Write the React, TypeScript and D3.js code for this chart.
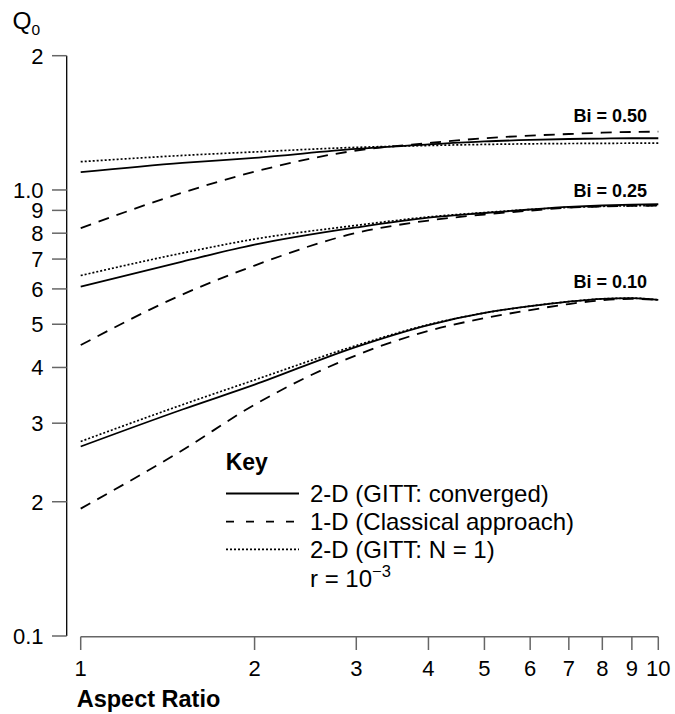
import React from "react";
import * as d3 from "d3";

const aspectRatio = [1, 1.5, 2, 3, 4, 5, 6, 7, 8, 9, 10];

const bi050Converged = [1.096, 1.15, 1.18, 1.236, 1.265, 1.285, 1.295, 1.301, 1.304, 1.306, 1.306];
const bi050Classical = [0.821, 0.986, 1.099, 1.226, 1.274, 1.306, 1.324, 1.335, 1.344, 1.349, 1.351];
const bi050N1 = [1.157, 1.195, 1.217, 1.246, 1.258, 1.265, 1.269, 1.271, 1.272, 1.273, 1.273];

const bi025Converged = [0.607, 0.691, 0.754, 0.824, 0.867, 0.888, 0.904, 0.916, 0.923, 0.927, 0.929];
const bi025Classical = [0.449, 0.583, 0.677, 0.801, 0.854, 0.881, 0.899, 0.913, 0.918, 0.921, 0.922];
const bi025N1 = [0.643, 0.722, 0.776, 0.833, 0.87, 0.89, 0.904, 0.914, 0.919, 0.922, 0.923];

const bi010Converged = [0.266, 0.322, 0.366, 0.445, 0.498, 0.53, 0.549, 0.562, 0.57, 0.572, 0.567];
const bi010Classical = [0.193, 0.261, 0.33, 0.426, 0.483, 0.516, 0.538, 0.555, 0.566, 0.57, 0.567];
const bi010N1 = [0.273, 0.33, 0.375, 0.448, 0.499, 0.53, 0.549, 0.562, 0.57, 0.572, 0.567];

const xTicks = [1, 2, 3, 4, 5, 6, 7, 8, 9, 10];
const yTicks = [0.1, 0.2, 0.3, 0.4, 0.5, 0.6, 0.7, 0.8, 0.9, 1.0, 2];
const yTickLabels = ["0.1", "2", "3", "4", "5", "6", "7", "8", "9", "1.0", "2"];

const biLabels = ["Bi = 0.50", "Bi = 0.25", "Bi = 0.10"];
const biLabelValues = [1.42, 0.965, 0.602];

const legendLabels = ["2-D (GITT: converged)", "1-D (Classical approach)", "2-D (GITT: N = 1)"];

const FONT = "'Liberation Sans', Arial, Helvetica, sans-serif";

const styles = [
  { dash: "none", width: 1.8 },
  { dash: "11,8", width: 1.8 },
  { dash: "2,2", width: 1.7 },
];

const groups = [
  [bi050Converged, bi050Classical, bi050N1],
  [bi025Converged, bi025Classical, bi025N1],
  [bi010Converged, bi010Classical, bi010N1],
];

export default function App() {
  const x = d3.scaleLog().domain([1, 10]).range([80.7, 658.3]);
  const y = d3.scaleLog().domain([0.1, 2]).range([636, 55.7]);
  const line = d3
    .line<number>()
    .x((_, i) => x(aspectRatio[i]))
    .y((d) => y(d))
    .curve(d3.curveMonotoneX);

  const legendY = [493.5, 521.7, 549.3];

  return (
    <svg
      width={675}
      height={714}
      style={{ position: "absolute", left: 0, top: 0, background: "#fff" }}
      fontFamily={FONT}
    >
      {/* Y axis */}
      <line x1={66.7} x2={66.7} y1={y(2)} y2={y(0.1)} stroke="#000" strokeWidth={1.3} />
      {yTicks.map((t, i) => (
        <g key={"yt" + i}>
          <line x1={52} x2={66.7} y1={y(t)} y2={y(t)} stroke="#666" strokeWidth={1.5} />
          <text x={43.5} y={y(t)} dy="0.36em" textAnchor="end" fontSize={22}>
            {yTickLabels[i]}
          </text>
        </g>
      ))}
      {/* Y axis title */}
      <text x={12.5} y={28.5} fontSize={24.5}>
        Q
        <tspan fontSize={15.5} dy={6}>
          0
        </tspan>
      </text>

      {/* X axis */}
      <line x1={x(1)} x2={x(10)} y1={636.7} y2={636.7} stroke="#666" strokeWidth={1.5} />
      {xTicks.map((t) => (
        <g key={"xt" + t}>
          <line x1={x(t)} x2={x(t)} y1={636.7} y2={650} stroke="#666" strokeWidth={1.5} />
          <text x={x(t)} y={675.5} textAnchor="middle" fontSize={22}>
            {t}
          </text>
        </g>
      ))}
      <text x={76.7} y={707} fontSize={23.5} fontWeight="bold">
        Aspect Ratio
      </text>

      {/* Curves */}
      {groups.map((g, gi) =>
        g.map((vals, si) => (
          <path
            key={"c" + gi + "-" + si}
            d={line(vals) || ""}
            fill="none"
            stroke="#000"
            strokeWidth={styles[si].width}
            strokeDasharray={styles[si].dash}
          />
        ))
      )}

      {/* Bi labels */}
      {biLabels.map((l, i) => (
        <text
          key={"bl" + i}
          x={647}
          y={y(biLabelValues[i])}
          textAnchor="end"
          fontSize={18}
          fontWeight="bold"
        >
          {l}
        </text>
      ))}

      {/* Legend */}
      <text x={225.7} y={470} fontSize={23} fontWeight="bold">
        Key
      </text>
      {legendLabels.map((l, i) => (
        <g key={"lg" + i}>
          <line
            x1={226}
            x2={299}
            y1={legendY[i]}
            y2={legendY[i]}
            stroke="#000"
            strokeWidth={styles[i].width}
            strokeDasharray={i === 1 ? "8,12" : styles[i].dash}
          />
          <text x={310} y={legendY[i] + 8.5} fontSize={24}>
            {l}
          </text>
        </g>
      ))}
      <text x={310} y={586.7} fontSize={24}>
        r = 10
        <tspan fontSize={16.5} dy={-10}>
          −3
        </tspan>
      </text>
    </svg>
  );
}
